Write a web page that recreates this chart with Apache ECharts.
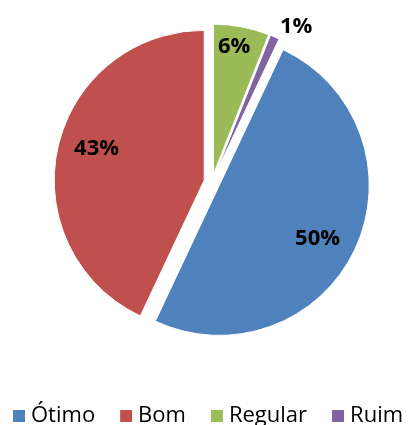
<!DOCTYPE html>
<html>
<head>
<meta charset="utf-8">
<script src="https://cdn.jsdelivr.net/npm/echarts@6/dist/echarts.min.js"></script>
<style>
html, body { margin: 0; padding: 0; background: #fff; }
#pie { width: 409px; height: 425px; }
</style>
</head>
<body>
<div id="pie"></div>
<script>
// avaliação
var categorias = ['Ótimo', 'Bom', 'Regular', 'Ruim'];
var valores = [50, 43, 6, 1];
var cores = ['#4F81BD', '#C0504D', '#9BBB59', '#8064A2'];

(function(){
  var cx = 212, cy = 182, raio = 150, explode = 8, startAngle = 64.8;
  // posição polar do rótulo: [distância ao centro, ângulo horário a partir do topo]
  var labelPolar = [[117, 118.5], [117, 286], [134, 9.3], [174, 28.5]];

  var total = valores.reduce(function (a, b) { return a + b; }, 0);
  var acum = 0;
  var dados = categorias.map(function (nome, i) {
    // ângulo médio da fatia -> posição padrão do rótulo 'inside'
    var meio = ((90 - startAngle) + (acum + valores[i] / 2) / total * 360) * Math.PI / 180;
    acum += valores[i];
    var r0 = explode + raio / 2;
    var alvo = labelPolar[i][1] * Math.PI / 180;
    var dx = Math.sin(alvo) * labelPolar[i][0] - Math.sin(meio) * r0;
    var dy = -Math.cos(alvo) * labelPolar[i][0] + Math.cos(meio) * r0;
    // desloca o texto com padding assimétrico
    var pad = [Math.max(0, 2 * dy), Math.max(0, -2 * dx), Math.max(0, -2 * dy), Math.max(0, 2 * dx)];
    return {
      name: nome,
      value: valores[i],
      selected: true,
      itemStyle: { color: cores[i] },
      label: { padding: pad }
    };
  });

  var opt = {
    animation: false,
    legend: {
      left: 6,
      top: 400,
      width: 403,
      itemWidth: 14,
      itemHeight: 14,
      itemGap: 23,
      icon: 'rect',
      textStyle: { fontFamily: 'Open Sans', fontSize: 22, color: '#000' },
      data: categorias
    },
    series: [{
      type: 'pie',
      center: [cx, cy],
      radius: raio,
      startAngle: startAngle,
      clockwise: true,
      selectedMode: 'multiple',
      selectedOffset: explode,
      itemStyle: { borderColor: '#fff', borderWidth: 1 },
      emphasis: { disabled: true },
      label: {
        show: true,
        position: 'inside',
        formatter: '{v|{c}%}',
        rich: {
          v: { fontFamily: 'Open Sans', fontWeight: 'bold', fontSize: 22, color: '#000' }
        }
      },
      labelLine: { show: false },
      data: dados
    }]
  };

  var pie = echarts.init(document.getElementById('pie'));
  pie.setOption(opt);
})();
</script>
</body>
</html>
